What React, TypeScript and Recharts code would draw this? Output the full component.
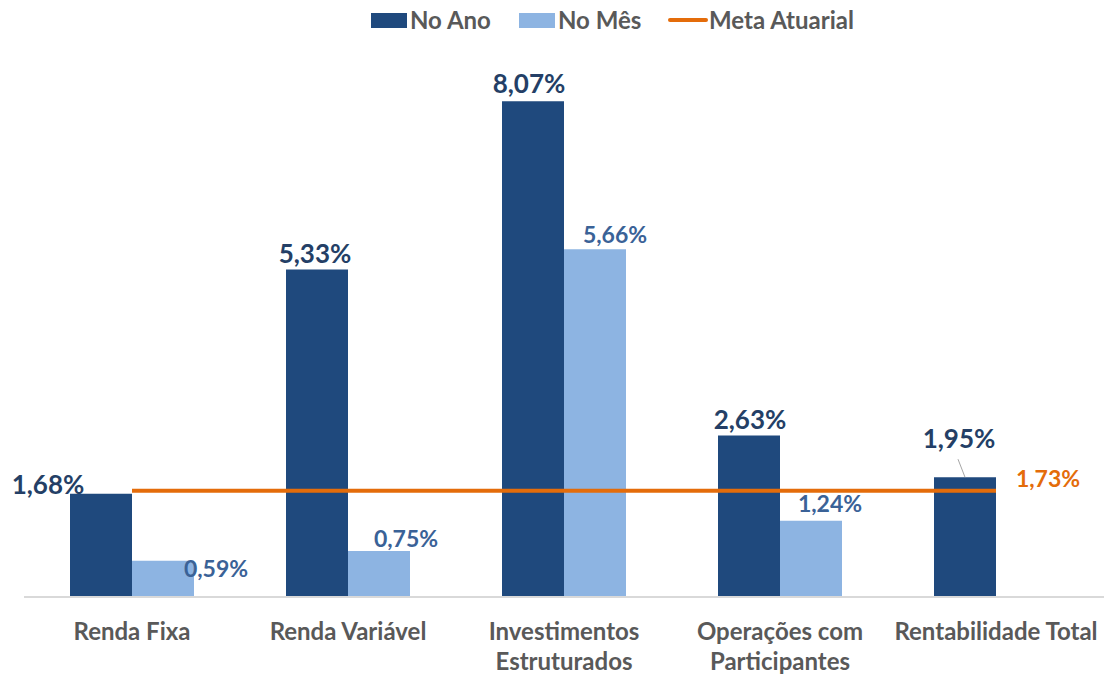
import React from "react";
import { ComposedChart, Bar, Line, XAxis, YAxis, LabelList, Legend } from "recharts";

const categories = ["Renda Fixa", "Renda Variável", "Investimentos\nEstruturados", "Operações com\nParticipantes", "Rentabilidade Total"];
const noAno = [1.68, 5.33, 8.07, 2.63, 1.95];
const noMes: (number | null)[] = [0.59, 0.75, 5.66, 1.24, null];
const meta = [1.73, 1.73, 1.73, 1.73, 1.73];

const data = categories.map((c, i) => ({ cat: c, ano: noAno[i], mes: noMes[i], meta: meta[i] }));

const DARK = "#1F497D";
const LIGHT = "#8DB4E2";
const ORANGE = "#E46C0A";
const DARK_TXT = "#243F66";
const LIGHT_TXT = "#3A6297";
const AXIS_TXT = "#595959";
const FONT = "Lato, 'Open Sans', sans-serif";

const fmt = (v: number) => v.toFixed(2).replace(".", ",") + "%";

const darkOff = [[-53, 0], [-2, -7], [-4, -8], [1, -6], [-6, -29]];
const lightOff = [[53, 16], [27, -4], [20, -6], [19, -9]];

const DarkLabel = (p: any) => {
  const { x, y, width, value, index } = p;
  const cx = x + width / 2;
  const [dx, dy] = darkOff[index] || [0, -6];
  return (
    <g>
      {index === 4 && <line x1={cx - 7} y1={y - 18} x2={cx} y2={y} stroke="#A6A6A6" strokeWidth={1} />}
      <text x={cx + dx} y={y + dy} textAnchor="middle" fontFamily={FONT} fontWeight={700} fontSize={26} fill={DARK_TXT}>
        {fmt(value)}
      </text>
    </g>
  );
};

const LightLabel = (p: any) => {
  const { x, y, width, value, index } = p;
  if (value == null) return null;
  const cx = x + width / 2;
  const [dx, dy] = lightOff[index] || [0, -6];
  return (
    <text x={cx + dx} y={y + dy} textAnchor="middle" fontFamily={FONT} fontWeight={700} fontSize={23} fill={LIGHT_TXT}>
      {fmt(value)}
    </text>
  );
};

const MetaLabel = (p: any) => {
  const { x, y, value, index } = p;
  if (index !== categories.length - 1) return null;
  return (
    <text x={x + 52} y={y - 4} textAnchor="middle" fontFamily={FONT} fontWeight={700} fontSize={23} fill={ORANGE}>
      {fmt(value)}
    </text>
  );
};

const Tick = (p: any) => {
  const { x, payload } = p;
  const lines = String(payload.value).split("\n");
  return (
    <g>
      {lines.map((l, i) => (
        <text key={i} x={x} y={640 + i * 30} textAnchor="middle" fontFamily={FONT} fontWeight={700} fontSize={24} fill={AXIS_TXT}>
          {l}
        </text>
      ))}
    </g>
  );
};

const LegendContent = () => (
  <div style={{ position: "relative", height: 40, fontFamily: FONT, fontWeight: 700, fontSize: 24, color: AXIS_TXT }}>
    <div style={{ position: "absolute", left: 371, top: 13, width: 36, height: 15, background: DARK }} />
    <div style={{ position: "absolute", left: 410, top: 5, lineHeight: "30px" }}>No Ano</div>
    <div style={{ position: "absolute", left: 519, top: 13, width: 36, height: 15, background: LIGHT }} />
    <div style={{ position: "absolute", left: 558, top: 5, lineHeight: "30px" }}>No Mês</div>
    <div style={{ position: "absolute", left: 668, top: 18, width: 40, height: 4, background: ORANGE, borderRadius: 2 }} />
    <div style={{ position: "absolute", left: 709, top: 5, lineHeight: "30px" }}>Meta Atuarial</div>
  </div>
);

export default function App() {
  return (
    <div style={{ position: "absolute", left: 0, top: 0, width: 1105, height: 677, background: "#fff" }}>
      <ComposedChart width={1105} height={677} data={data} margin={{ top: 4, right: 1, bottom: 0, left: 24 }} barGap={0} barSize={62}>
        <XAxis dataKey="cat" axisLine={{ stroke: "#D9D9D9", strokeWidth: 2 }} tickLine={false} height={80} interval={0} tick={<Tick />} />
        <YAxis hide domain={[0, 9]} />
        <Legend verticalAlign="top" height={40} wrapperStyle={{ top: 0, left: 0, width: 1105, height: 40 }} content={<LegendContent />} />
        <Bar dataKey="ano" fill={DARK} isAnimationActive={false}>
          <LabelList dataKey="ano" content={<DarkLabel />} />
        </Bar>
        <Bar dataKey="mes" fill={LIGHT} isAnimationActive={false}>
          <LabelList dataKey="mes" content={<LightLabel />} />
        </Bar>
        <Line dataKey="meta" stroke={ORANGE} strokeWidth={4} dot={false} activeDot={false} isAnimationActive={false}>
          <LabelList dataKey="meta" content={<MetaLabel />} />
        </Line>
      </ComposedChart>
    </div>
  );
}
